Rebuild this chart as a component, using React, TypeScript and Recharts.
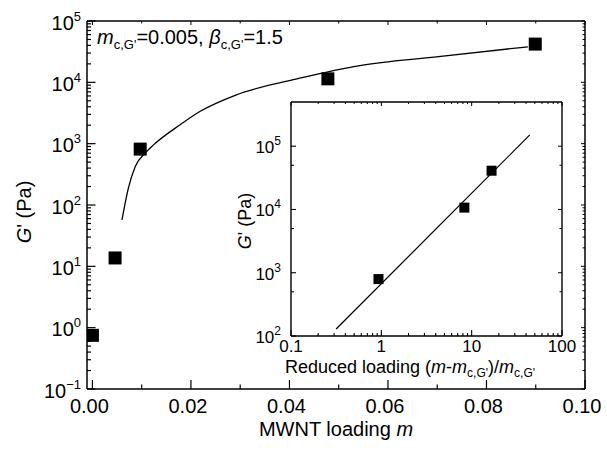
import { ComposedChart, Line, Scatter, XAxis, YAxis, ReferenceLine } from "recharts";

// main panel: storage modulus vs MWNT loading
const loading = [0.0, 0.0046, 0.0097, 0.0478, 0.0899];
const modulus = [0.75, 13.7, 815, 11400, 42000];

// fitted percolation curve
const fitLoading = [0.006, 0.0073, 0.0087, 0.011, 0.0124, 0.0178, 0.0218, 0.0291, 0.0421, 0.0543, 0.0698, 0.0884];
const fitModulus = [57, 188, 423, 743, 955, 2030, 3340, 6200, 11700, 18800, 26000, 38000];

// inset: modulus vs reduced loading
const reduced = [0.93, 8.3, 16.6];
const reducedModulus = [794, 10700, 41000];
const lawReduced = [0.316, 44];
const lawModulus = [129, 151000];

const xMajor = [0, 0.02, 0.04, 0.06, 0.08, 0.1];
const xMinor = [0.01, 0.03, 0.05, 0.07, 0.09];
const yMajor = [0.1, 1, 10, 100, 1000, 10000, 100000];
const insetXMajor = [0.1, 1, 10, 100];
const insetYMajor = [100, 1000, 10000, 100000];
const insetYMinor = [500, 5000, 50000];

const decadeMinor = (majors: number[]) =>
  majors.slice(0, -1).flatMap((d) => [2, 3, 4, 5, 6, 7, 8, 9].map((k) => d * k));

const mainPoints = loading.map((m, i) => ({ m, g: modulus[i] }));
const fitPoints = fitLoading.map((m, i) => ({ m, g: fitModulus[i] }));
const insetPoints = reduced.map((m, i) => ({ m, g: reducedModulus[i] }));
const lawPoints = lawReduced.map((m, i) => ({ m, g: lawModulus[i] }));

// plot box of the main panel (page pixels)
const PL = 87, PR = 585, PT = 21, PB = 389;
// plot box of the inset (inset svg pixels)
const IL = 51, IR = 322, IT = 12, IB = 246;

const font = "'Liberation Sans', Arial, Helvetica, sans-serif";

const isPow10 = (v: number) => Math.abs(Math.log10(v) - Math.round(Math.log10(v))) < 1e-6;
const expText = (v: number) => {
  const e = Math.round(Math.log10(v));
  return e < 0 ? `\u2212${-e}` : `${e}`;
};

function MainXTick(props: any) {
  const { x, payload } = props;
  const major = xMajor.includes(payload.value);
  return (
    <g>
      <line x1={x} x2={x} y1={PB} y2={PB - (major ? 9 : 4.5)} stroke="#000" strokeWidth={1.2} />
      <line x1={x} x2={x} y1={PT} y2={PT + (major ? 4 : 2.5)} stroke="#000" strokeWidth={1} />
      {major && (
        <text x={x - 3} y={PB + 24} textAnchor="middle" fontSize={20} fill="#000">
          {payload.value.toFixed(2)}
        </text>
      )}
    </g>
  );
}

function MainYTick(props: any) {
  const { y, payload } = props;
  const major = isPow10(payload.value);
  return (
    <g>
      <line x1={PL} x2={PL + (major ? 8.5 : 4)} y1={y} y2={y} stroke="#000" strokeWidth={1.2} />
      <line x1={PR} x2={PR - (major ? 4 : 2.5)} y1={y} y2={y} stroke="#000" strokeWidth={1} />
      {major && (
        <text x={81} y={y + 8.5} textAnchor="end" fontSize={20} fill="#000">
          10
          <tspan dy={-9} fontSize={13}>
            {expText(payload.value)}
          </tspan>
        </text>
      )}
    </g>
  );
}

function InsetXTick(props: any) {
  const { x, payload } = props;
  const major = insetXMajor.includes(payload.value);
  return (
    <g>
      <line x1={x} x2={x} y1={IB} y2={IB - (major ? 6 : 3)} stroke="#000" strokeWidth={1.1} />
      <line x1={x} x2={x} y1={IT} y2={IT + (major ? 4 : 2)} stroke="#000" strokeWidth={1} />
      {major && (
        <text x={x} y={IB + 16} textAnchor="middle" fontSize={17} fill="#000">
          {payload.value}
        </text>
      )}
    </g>
  );
}

function InsetYTick(props: any) {
  const { y, payload } = props;
  const major = isPow10(payload.value);
  return (
    <g>
      <line x1={IL} x2={IL + (major ? 5 : 3)} y1={y} y2={y} stroke="#000" strokeWidth={1.1} />
      <line x1={IR} x2={IR - (major ? 4 : 2.5)} y1={y} y2={y} stroke="#000" strokeWidth={1} />
      {major && (
        <text x={41} y={y + 7} textAnchor="end" fontSize={17} fill="#000">
          10
          <tspan dy={-8} fontSize={12}>
            {expText(payload.value)}
          </tspan>
        </text>
      )}
    </g>
  );
}

const square = (size: number) => (props: any) => (
  <rect x={props.cx - size / 2} y={props.cy - size / 2} width={size} height={size} fill="#000" />
);

export default function App() {
  return (
    <div style={{ position: "absolute", left: 0, top: 0, width: 607, height: 450, background: "#fff", fontFamily: font }}>
      <div style={{ position: "absolute", left: 0, top: 0 }}>
        <ComposedChart width={607} height={450} margin={{ top: PT, right: 607 - PR, left: 0, bottom: 0 }}>
          <XAxis
            dataKey="m"
            type="number"
            domain={[-0.0011, 0.1]}
            ticks={[...xMajor, ...xMinor]}
            interval={0}
            height={450 - PB}
            allowDataOverflow
            tickLine={false}
            axisLine={{ stroke: "#000", strokeWidth: 1.5 }}
            tick={(p: any) => <MainXTick {...p} />}
          />
          <YAxis
            dataKey="g"
            type="number"
            scale="log"
            domain={[0.1, 100000]}
            ticks={[...yMajor, ...decadeMinor(yMajor)]}
            interval={0}
            width={PL}
            allowDataOverflow
            tickLine={false}
            axisLine={{ stroke: "#000", strokeWidth: 1.5 }}
            tick={(p: any) => <MainYTick {...p} />}
          />
          <ReferenceLine y={100000} stroke="#000" strokeWidth={1.5} />
          <ReferenceLine x={0.1} stroke="#000" strokeWidth={1.5} />
          <Line
            data={fitPoints}
            dataKey="g"
            type="monotone"
            stroke="#000"
            strokeWidth={1.3}
            dot={false}
            isAnimationActive={false}
          />
          <Scatter data={mainPoints} dataKey="g" shape={square(13)} isAnimationActive={false} />
        </ComposedChart>
      </div>

      <div style={{ position: "absolute", left: 240, top: 90 }}>
        <ComposedChart width={340} height={300} margin={{ top: IT, right: 340 - IR, left: 0, bottom: 0 }}>
          <XAxis
            dataKey="m"
            type="number"
            scale="log"
            domain={[0.1, 100]}
            ticks={[...insetXMajor, ...decadeMinor(insetXMajor)]}
            interval={0}
            height={300 - IB}
            allowDataOverflow
            tickLine={false}
            axisLine={{ stroke: "#000", strokeWidth: 1.4 }}
            tick={(p: any) => <InsetXTick {...p} />}
          />
          <YAxis
            dataKey="g"
            type="number"
            scale="log"
            domain={[100, 500000]}
            ticks={[...insetYMajor, ...insetYMinor]}
            interval={0}
            width={IL}
            allowDataOverflow
            tickLine={false}
            axisLine={{ stroke: "#000", strokeWidth: 1.4 }}
            tick={(p: any) => <InsetYTick {...p} />}
          />
          <ReferenceLine y={500000} stroke="#000" strokeWidth={1.4} />
          <ReferenceLine x={100} stroke="#000" strokeWidth={1.4} />
          <Line
            data={lawPoints}
            dataKey="g"
            type="linear"
            stroke="#000"
            strokeWidth={1.2}
            dot={false}
            isAnimationActive={false}
          />
          <Scatter data={insetPoints} dataKey="g" shape={square(10)} isAnimationActive={false} />
        </ComposedChart>
      </div>

      <svg width={607} height={450} style={{ position: "absolute", left: 0, top: 0, pointerEvents: "none" }}>
        <g fill="#000" fontFamily={font}>
          <text transform="translate(31,212) rotate(-90)" textAnchor="middle" fontSize={20}>
            <tspan fontStyle="italic">G</tspan>' (Pa)
          </text>
          <text x={336} y={436} textAnchor="middle" fontSize={20}>
            MWNT loading <tspan fontStyle="italic">m</tspan>
          </text>
          <text x={97} y={43.5} fontSize={20}>
            <tspan fontStyle="italic">m</tspan>
            <tspan fontSize={13} dy={5}>c,G'</tspan>
            <tspan dy={-5}>=0.005, </tspan>
            <tspan fontStyle="italic">β</tspan>
            <tspan fontSize={13} dy={5}>c,G'</tspan>
            <tspan dy={-5}>=1.5</tspan>
          </text>
          <text transform="translate(251,221) rotate(-90)" textAnchor="middle" fontSize={18}>
            <tspan fontStyle="italic">G</tspan>' (Pa)
          </text>
          <text x={285} y={373} fontSize={18}>
            Reduced loading (<tspan fontStyle="italic">m</tspan>-<tspan fontStyle="italic">m</tspan>
            <tspan fontSize={12} dy={4}>c,G'</tspan>
            <tspan dy={-4}>)/</tspan>
            <tspan fontStyle="italic">m</tspan>
            <tspan fontSize={12} dy={4}>c,G'</tspan>
          </text>
        </g>
      </svg>
    </div>
  );
}
